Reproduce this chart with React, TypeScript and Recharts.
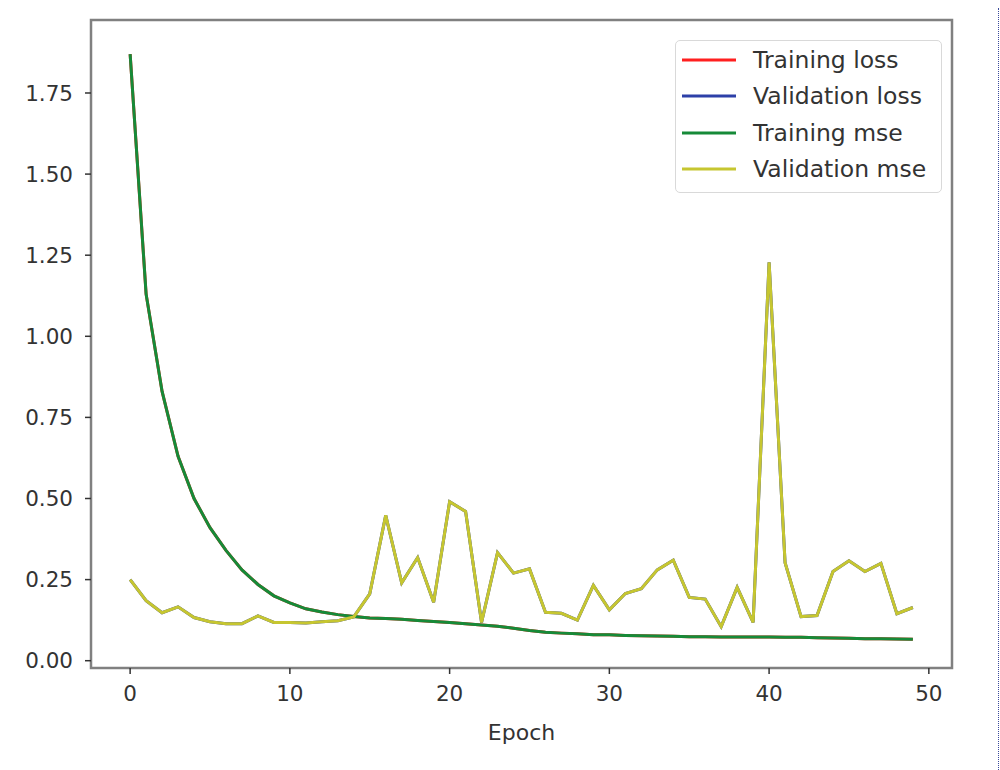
import { LineChart, Line, XAxis, YAxis, Legend, ReferenceArea } from "recharts";

const epochs = [
  0, 1, 2, 3, 4, 5, 6, 7, 8, 9, 10, 11, 12, 13, 14, 15, 16, 17, 18, 19, 20, 21,
  22, 23, 24, 25, 26, 27, 28, 29, 30, 31, 32, 33, 34, 35, 36, 37, 38, 39, 40,
  41, 42, 43, 44, 45, 46, 47, 48, 49,
];

const trainingMse = [
  1.87, 1.13, 0.83, 0.63, 0.5, 0.41, 0.34, 0.28, 0.235, 0.2, 0.178, 0.16, 0.15,
  0.142, 0.136, 0.132, 0.13, 0.128, 0.124, 0.121, 0.118, 0.114, 0.11, 0.106,
  0.1, 0.093, 0.088, 0.085, 0.083, 0.08, 0.08, 0.078, 0.077, 0.076, 0.075,
  0.074, 0.074, 0.073, 0.073, 0.073, 0.073, 0.072, 0.072, 0.071, 0.07, 0.069,
  0.068, 0.068, 0.067, 0.066,
];

const validationMse = [
  0.25, 0.185, 0.148, 0.166, 0.133, 0.12, 0.114, 0.114, 0.138, 0.118, 0.118,
  0.116, 0.12, 0.123, 0.135, 0.206, 0.448, 0.24, 0.318, 0.18, 0.49, 0.46,
  0.118, 0.333, 0.27, 0.283, 0.149, 0.146, 0.125, 0.232, 0.157, 0.207, 0.222,
  0.28, 0.31, 0.195, 0.19, 0.105, 0.226, 0.118, 1.228, 0.302, 0.136, 0.139,
  0.275, 0.308, 0.275, 0.3, 0.145, 0.164,
];

// loss is the mse here, so the red/blue lines sit under green/yellow
const trainingLoss = trainingMse;
const validationLoss = validationMse;

const seriesNames = ["Training loss", "Validation loss", "Training mse", "Validation mse"];

const xTicks = [0, 10, 20, 30, 40, 50];
const yTicks = [0, 0.25, 0.5, 0.75, 1.0, 1.25, 1.5, 1.75];

const X_DOMAIN = [-2.45, 51.45];
const Y_DOMAIN = [-0.0225, 1.975];

const FONT = "'DejaVu Sans', Verdana, sans-serif";
const TEXT = "#333333";
const FRAME = "#808080";

const rows = epochs.map((epoch, i) => ({
  epoch,
  trainingLoss: trainingLoss[i],
  validationLoss: validationLoss[i],
  trainingMse: trainingMse[i],
  validationMse: validationMse[i],
}));

const renderLegend = (props: any) => {
  const payload = [...(props.payload || [])].sort(
    (a: any, b: any) => seriesNames.indexOf(a.value) - seriesNames.indexOf(b.value),
  );
  return (
    <div
      style={{
        width: "100%",
        height: "100%",
        boxSizing: "border-box",
        border: "1.5px solid #d9d9d9",
        borderRadius: 5,
        background: "#fff",
        paddingTop: 1,
        fontFamily: FONT,
      }}
    >
      {payload.map((entry: any) => (
        <div
          key={entry.value}
          style={{ display: "flex", alignItems: "center", height: 36.3 }}
        >
          <svg width={77} height={10} style={{ flexShrink: 0 }}>
            <line x1={6} x2={60} y1={5} y2={5} stroke={entry.color} strokeWidth={3} />
          </svg>
          <span style={{ fontSize: 23.5, color: TEXT, whiteSpace: "nowrap" }}>
            {entry.value}
          </span>
        </div>
      ))}
    </div>
  );
};

export default function App() {
  return (
    <div
      style={{
        position: "absolute",
        left: 0,
        top: 0,
        width: 1000,
        height: 770,
        background: "#fff",
        overflow: "hidden",
      }}
    >
      <LineChart
        width={1000}
        height={770}
        data={rows}
        margin={{ top: 20, right: 48, bottom: 22, left: 0 }}
      >
        <XAxis
          dataKey="epoch"
          type="number"
          domain={X_DOMAIN}
          ticks={xTicks}
          allowDataOverflow
          height={80}
          tickSize={6}
          tickMargin={12}
          axisLine={{ stroke: FRAME, strokeWidth: 2 }}
          tickLine={{ stroke: TEXT, strokeWidth: 1.5 }}
          tick={{ fontSize: 21.5, fill: TEXT, fontFamily: FONT }}
          label={{
            value: "Epoch",
            position: "insideBottom",
            offset: 8,
            fill: TEXT,
            fontSize: 22,
            fontFamily: FONT,
          }}
        />
        <YAxis
          type="number"
          domain={Y_DOMAIN}
          ticks={yTicks}
          allowDataOverflow
          width={91}
          tickSize={6}
          tickMargin={12}
          tickFormatter={(v: number) => v.toFixed(2)}
          axisLine={{ stroke: FRAME, strokeWidth: 2 }}
          tickLine={{ stroke: TEXT, strokeWidth: 1.5 }}
          tick={{ fontSize: 21.5, fill: TEXT, fontFamily: FONT }}
        />
        {/* plot frame (matplotlib spines) */}
        <ReferenceArea
          x1={X_DOMAIN[0]}
          x2={X_DOMAIN[1]}
          y1={Y_DOMAIN[0]}
          y2={Y_DOMAIN[1]}
          fill="none"
          fillOpacity={0}
          stroke={FRAME}
          strokeWidth={2.5}
          ifOverflow="visible"
        />
        <Legend
          layout="vertical"
          align="center"
          verticalAlign="middle"
          content={renderLegend}
          wrapperStyle={{ top: 40, left: 675, width: 267, height: 153 }}
        />
        <Line
          name="Training loss"
          dataKey="trainingLoss"
          stroke="#ff1f1f"
          strokeWidth={3}
          dot={false}
          isAnimationActive={false}
        />
        <Line
          name="Validation loss"
          dataKey="validationLoss"
          stroke="#2d40a8"
          strokeWidth={3}
          dot={false}
          isAnimationActive={false}
        />
        <Line
          name="Training mse"
          dataKey="trainingMse"
          stroke="#168a38"
          strokeWidth={3}
          dot={false}
          isAnimationActive={false}
        />
        <Line
          name="Validation mse"
          dataKey="validationMse"
          stroke="#c6c630"
          strokeWidth={3}
          dot={false}
          isAnimationActive={false}
        />
      </LineChart>
      <div
        style={{
          position: "absolute",
          left: 998,
          top: 8,
          height: 762,
          borderLeft: "1px dotted #3a4a9a",
        }}
      />
    </div>
  );
}
